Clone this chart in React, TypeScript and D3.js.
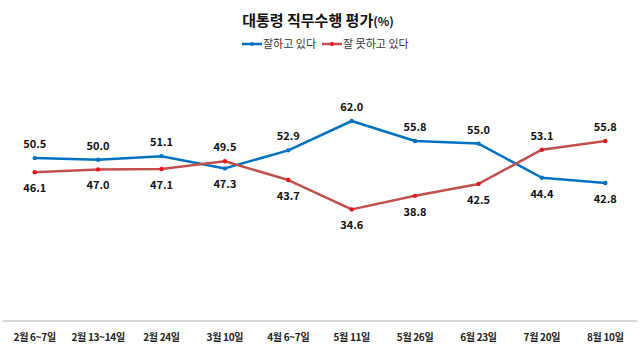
import React from "react";
import * as d3 from "d3";

const categories = ["2월 6~7일", "2월 13~14일", "2월 24일", "3월 10일", "4월 6~7일", "5월 11일", "5월 26일", "6월 23일", "7월 20일", "8월 10일"];
const goodValues = [50.5, 50.0, 51.1, 47.3, 52.9, 62.0, 55.8, 55.0, 44.4, 42.8];
const badValues = [46.1, 47.0, 47.1, 49.5, 43.7, 34.6, 38.8, 42.5, 53.1, 55.8];
const seriesNames = ["잘하고 있다", "잘 못하고 있다"];

const W = 643, H = 358;
const font = "'Malgun Gothic', 'Noto Sans CJK KR', sans-serif";

export default function App() {
  const x = d3.scaleBand<string>().domain(categories).range([3, 637]);
  const y = d3.scaleLinear().domain([0, 62]).range([321, 121]);
  const cx = (c: string) => (x(c) as number) + x.bandwidth() / 2;
  const line = d3.line<number>().x((_, i) => cx(categories[i])).y((d) => y(d));
  const series = [
    { name: seriesNames[0], values: goodValues, line: "#0070C0", marker: "#0070C0" },
    { name: seriesNames[1], values: badValues, line: "#C0504D", marker: "#E8141C" },
  ];
  return (
    <svg width={W} height={H} style={{ position: "absolute", left: 0, top: 0, fontFamily: font }}>
      <rect width={W} height={H} fill="#fff" />
      <text x={318} y={26} textAnchor="middle" fontSize={15} fontWeight="bold" fill="#111">
        대통령 직무수행 평가<tspan fontSize={12}>(%)</tspan>
      </text>
      <g fontSize={11} fill="#333">
        <line x1={242} x2={262} y1={44} y2={44} stroke="#0070C0" strokeWidth={2.5} />
        <circle cx={252} cy={44} r={2} fill="#0070C0" />
        <text x={263} y={48}>{seriesNames[0]}</text>
        <line x1={322} x2={342} y1={44} y2={44} stroke="#C0504D" strokeWidth={2.5} />
        <circle cx={332} cy={44} r={2} fill="#E8141C" />
        <text x={343} y={48}>{seriesNames[1]}</text>
      </g>
      <line x1={3} x2={637} y1={321} y2={321} stroke="#b0b0b0" strokeWidth={1} />
      {categories.map((c) => (
        <text key={c} x={cx(c)} y={341} textAnchor="middle" fontSize={10} letterSpacing={-0.3} fontWeight="bold" fill="#222">{c}</text>
      ))}
      {series.map((s, si) => (
        <g key={s.name}>
          <path d={line(s.values) || ""} fill="none" stroke={s.line} strokeWidth={2.5} strokeLinejoin="round" />
          {s.values.map((v, i) => (
            <circle key={i} cx={cx(categories[i])} cy={y(v)} r={2.2} fill={s.marker} />
          ))}
          {s.values.map((v, i) => {
            const other = series[1 - si].values[i];
            const above = v >= other;
            return (
              <text key={"t" + i} x={cx(categories[i])} y={above ? y(v) - 10 : y(v) + 20} textAnchor="middle" fontSize={11} fontWeight="bold" fill="#111">
                {v.toFixed(1)}
              </text>
            );
          })}
        </g>
      ))}
    </svg>
  );
}
